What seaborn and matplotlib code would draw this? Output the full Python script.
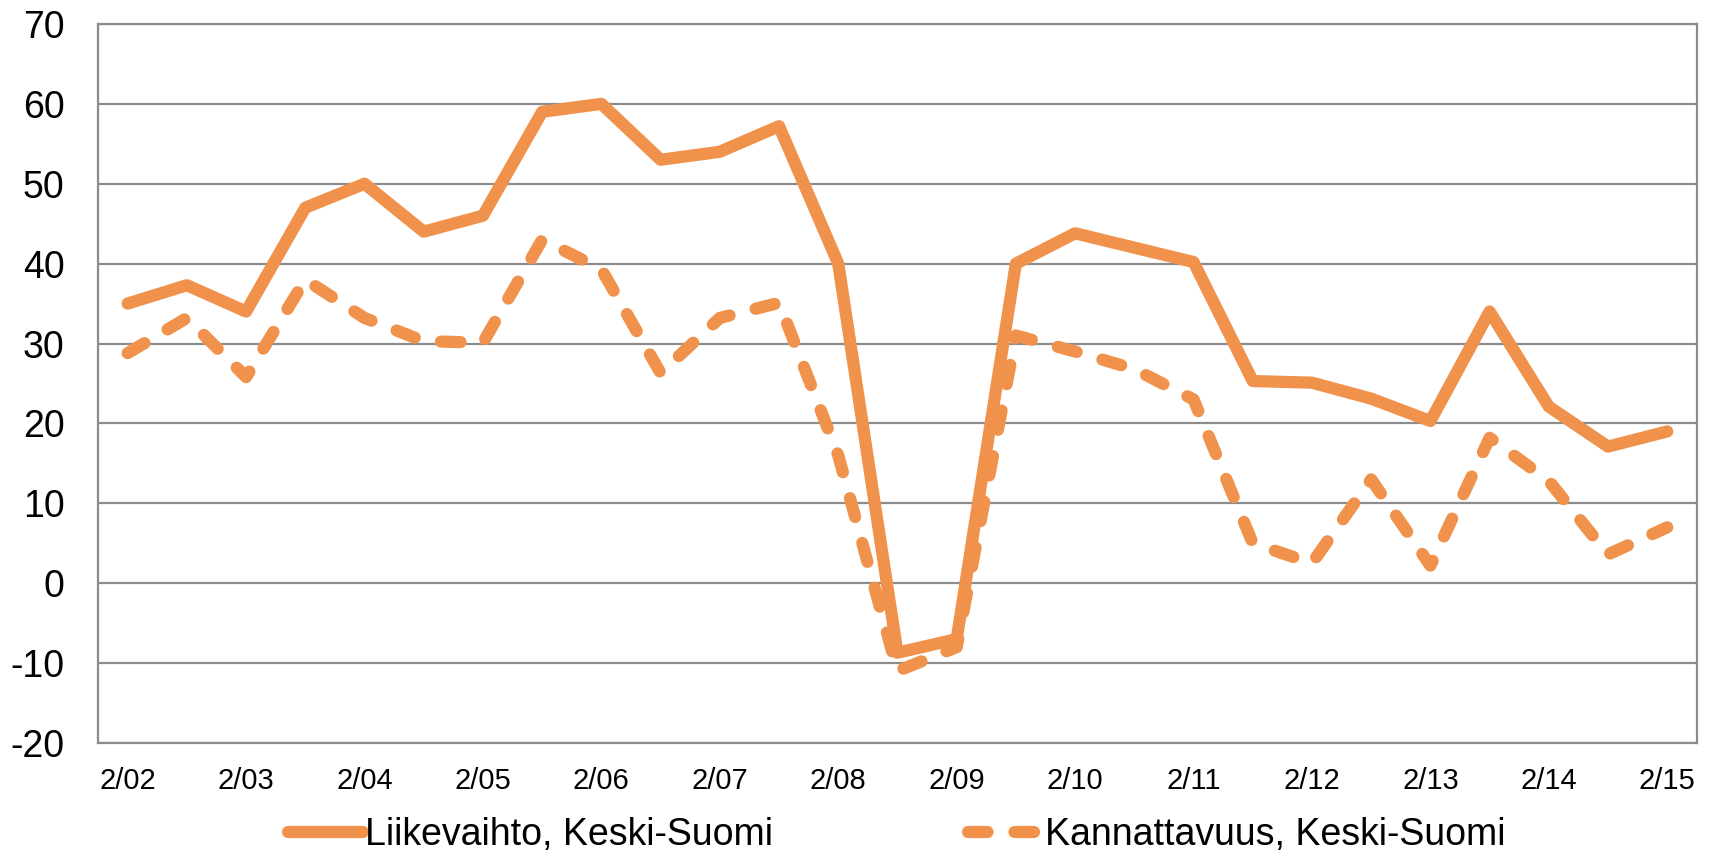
import pandas as pd
import numpy as np
import matplotlib
matplotlib.use("Agg")
import matplotlib.pyplot as plt
import seaborn as sns

# half-year points from 2/02 to 2/15
periods = ["2/02", "8/02", "2/03", "8/03", "2/04", "8/04", "2/05", "8/05", "2/06", "8/06",
           "2/07", "8/07", "2/08", "8/08", "2/09", "8/09", "2/10", "8/10", "2/11", "8/11",
           "2/12", "8/12", "2/13", "8/13", "2/14", "8/14", "2/15"]
liikevaihto = [35, 37.3, 34, 47, 50, 44, 46, 59, 60, 53,
               54, 57.2, 40, -8.7, -7, 40, 43.8, 42, 40.2, 25.3,
               25.1, 23.1, 20.3, 34, 22.1, 17.1, 19]
kannattavuus = [28.8, 33.2, 25.8, 38, 33.2, 30.3, 30.1, 43, 39.3, 26.3,
                33.2, 35.1, 16, -11, -8, 31, 29, 26.8, 23, 5,
                2.5, 13, 2.2, 18.2, 12.8, 3.6, 7]
tick_labels = ["2/02", "2/03", "2/04", "2/05", "2/06", "2/07", "2/08",
               "2/09", "2/10", "2/11", "2/12", "2/13", "2/14", "2/15"]
name1 = "Liikevaihto, Keski-Suomi"
name2 = "Kannattavuus, Keski-Suomi"

df = pd.DataFrame({
    "idx": list(range(len(periods))) * 2,
    "value": liikevaihto + kannattavuus,
    "series": [name1] * len(periods) + [name2] * len(periods),
})

sns.set_style("white")
plt.rcParams["font.family"] = ["Liberation Sans", "DejaVu Sans"]
plt.rcParams["axes.unicode_minus"] = False
plt.rcParams["text.color"] = "black"
plt.rcParams["xtick.color"] = "black"
plt.rcParams["ytick.color"] = "black"

orange = "#F0924B"
grid_col = "#8C8C8C"

fig = plt.figure(figsize=(17.14, 8.55), dpi=100)
ax = fig.add_axes([0.0572, 0.131, 0.9328, 0.841])

sns.lineplot(data=df, x="idx", y="value", style="series", ax=ax,
             color=orange, linewidth=8.8,
             dashes={name1: "", name2: (1.6, 2.2)},
             solid_capstyle="round", dash_capstyle="round",
             solid_joinstyle="round", dash_joinstyle="round")

ax.set_xlim(-0.5, len(periods) - 0.5)
ax.set_ylim(-20, 70)
ax.set_yticks(range(-20, 71, 10))
ax.set_xticks(range(0, len(periods), 2))
ax.set_xticklabels(tick_labels)
ax.tick_params(axis="y", labelsize=27, length=0, pad=24, labelcolor="black")
ax.tick_params(axis="x", labelsize=21, length=0, pad=17, labelcolor="black")
ax.set_xlabel("")
ax.set_ylabel("")
ax.yaxis.grid(True, color=grid_col, linewidth=1.6)
ax.set_axisbelow(True)
for s in ax.spines.values():
    s.set_color(grid_col)
    s.set_linewidth(1.6)

handles, labels = ax.get_legend_handles_labels()
ax.get_legend().remove()
fig.legend(handles, labels, loc="lower center", ncol=2, frameon=False,
           fontsize=27, handlelength=2.0, handletextpad=0.05,
           columnspacing=5.2, bbox_to_anchor=(0.523, -0.037))

fig.savefig("out.png", dpi=100)
